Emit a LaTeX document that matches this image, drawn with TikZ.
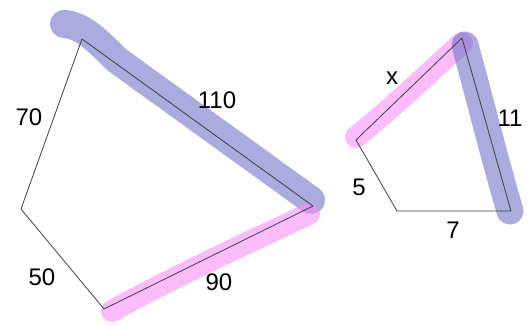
\documentclass[tikz,border=0pt]{standalone}
\usepackage{fontspec}
\setmainfont{Liberation Sans}
\usetikzlibrary{positioning}

\begin{document}
\begin{tikzpicture}[
    x=1pt, y=-1pt,
    edge/.style={draw=black!75, line width=0.8pt},
    lbl/.style={inner sep=0pt, font=\fontsize{24}{27}\selectfont},
    hlblue/.style={draw={rgb,255:red,110;green,110;blue,200}, draw opacity=0.58, line cap=round, line join=round},
    hlpink/.style={draw={rgb,255:red,247;green,140;blue,247}, draw opacity=0.58, line cap=round, line join=round}
]
  \useasboundingbox (0,0) rectangle (531,327);

  % --- LEFT SHAPE ---
  \coordinate (a) at (82,39);
  \coordinate (b) at (313,206);
  \coordinate (c) at (104,309);
  \coordinate (d) at (21,209);

  % --- RIGHT SHAPE ---
  \coordinate (e) at (462,38);
  \coordinate (f) at (511,211);
  \coordinate (g) at (397,211);
  \coordinate (h) at (356,140);

  % --- HIGHLIGHTS ---
  \draw[hlblue, line width=28pt] (64,24) .. controls (82,25) and (97,40) .. (117,60) -- (311,200);
  \draw[hlpink, line width=22pt] (112,311) .. controls (170,279) and (230,251) .. (309,214);
  \draw[hlpink, line width=22pt] (356,137) .. controls (390,110) and (430,72) .. (462,43);
  \draw[hlblue, line width=27pt] (465,45) .. controls (480,100) and (495,160) .. (510,211);

  % --- EDGES ---
  \draw[edge] (a) -- (b) -- (c) -- (d) -- cycle;
  \draw[edge] (e) -- (f) -- (g) -- (h) -- cycle;

  % --- LABELS ---
  \node[lbl] (l70) at (29,117) {70};
  \node[lbl] (l110) at (217,100) {110};
  \node[lbl] (l90) at (219,282) {90};
  \node[lbl] (l50) at (42,277) {50};
  \node[lbl] (lx) at (392,78) {x};
  \node[lbl] (l11) at (510,118) {11};
  \node[lbl] (l5) at (359,187) {5};
  \node[lbl] (l7) at (453,230) {7};
\end{tikzpicture}
\end{document}
